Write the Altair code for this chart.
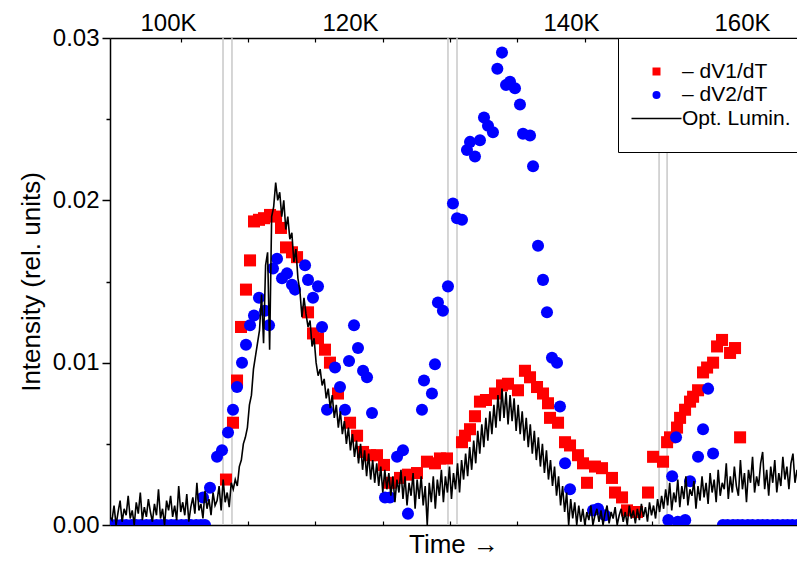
import altair as alt
import pandas as pd

FONT = "Liberation Sans"

dv1_label = "– dV1/dT"
dv2_label = "– dV2/dT"
lum_label = "Opt. Lumin."

# -dV1/dT (red squares)
dv1_time = [16.72, 17.76, 18.36, 18.95, 19.69, 20.29, 20.88, 21.62, 22.37, 23.26,
            24.15, 24.89, 25.63, 26.52, 27.27, 28.90, 29.64, 30.38, 31.42, 32.16,
            33.35, 35.14, 36.18, 37.07, 38.10, 39.14, 40.18, 41.07, 42.56, 43.74,
            45.08, 46.56, 47.75, 48.49, 49.53, 51.76, 52.20, 52.95, 53.69, 54.43,
            55.32, 56.66, 57.70, 58.59, 60.07, 61.11, 61.86, 62.90, 63.79, 64.53,
            64.83, 66.02, 67.06, 67.80, 68.99, 69.73, 70.32, 71.51, 72.55, 74.03,
            74.48, 75.52, 76.26, 77.75, 79.38, 80.13, 81.61, 82.21, 82.65, 83.69,
            84.14, 84.88, 85.62, 86.07, 86.81, 87.55, 88.15, 89.04, 89.63, 90.37,
            91.56, 92.30, 93.05]
dv1_value = [0.0028, 0.0063, 0.0089, 0.0122, 0.0145, 0.0163, 0.0187, 0.0188, 0.0189, 0.0191,
             0.0190, 0.0183, 0.0171, 0.0168, 0.0165, 0.0131, 0.0118, 0.0115, 0.0108, 0.0100,
             0.0081, 0.0063, 0.0055, 0.0045, 0.0043, 0.0043, 0.0037, 0.0026, 0.0029, 0.0031,
             0.0032, 0.0039, 0.0038, 0.0041, 0.0041, 0.0051, 0.0055, 0.0059, 0.0067, 0.0076,
             0.0077, 0.0081, 0.0086, 0.0087, 0.0083, 0.0095, 0.0091, 0.0085, 0.0081, 0.0075,
             0.0066, 0.0063, 0.0051, 0.0049, 0.0043, 0.0038, 0.0026, 0.0036, 0.0035, 0.0029,
             0.0020, 0.0017, 0.0009, 0.0008, 0.0020, 0.0042, 0.0039, 0.0051, 0.0054, 0.0060,
             0.0066, 0.0071, 0.0076, 0.0079, 0.0083, 0.0094, 0.0097, 0.0100, 0.0110, 0.0114,
             0.0106, 0.0109, 0.0054]

# -dV2/dT (blue circles)
dv2_time = [-0.3, 0.4, 1.2, 1.9, 2.7, 3.4, 4.1, 4.9, 5.6, 6.4,
            7.1, 7.8, 8.6, 9.3, 10.1, 10.8, 11.5, 12.3, 13.0, 13.6,
            13.31, 14.35, 15.39, 16.13, 17.02, 17.76, 18.36, 19.10, 19.69, 20.29,
            20.88, 21.62, 22.51, 23.11, 23.70, 24.30, 25.04, 25.78, 26.52, 26.97,
            28.46, 28.90, 29.64, 30.38, 30.98, 31.72, 32.91, 33.65, 34.39, 34.99,
            35.73, 36.32, 37.07, 37.66, 38.40, 40.33, 41.07, 42.12, 43.00, 43.74,
            45.82, 46.12, 47.30, 47.75, 48.19, 48.93, 49.68, 50.42, 51.02, 51.76,
            52.50, 52.95, 53.69, 54.43, 55.03, 55.62, 56.36, 57.01, 57.70, 58.30,
            58.89, 59.63, 60.37, 60.82, 61.86, 62.31, 63.05, 63.79, 64.38, 65.12,
            65.87, 66.31, 67.06, 67.80, 71.22, 71.96, 73.00, 82.40, 82.96, 83.54,
            83.80, 84.90, 85.62, 86.81, 87.55, 88.30, 89.04,
            90.5, 91.2, 92.0, 92.7, 93.4, 94.2, 94.9, 95.7, 96.4, 97.1,
            97.9, 98.6, 99.4, 100.1, 100.8, 101.6]
dv2_value = [0.0, 0.0, 0.0, 0.0, 0.0, 0.0, 0.0, 0.0, 0.0, 0.0,
             0.0, 0.0, 0.0, 0.0, 0.0, 0.0, 0.0, 0.0, 0.0, 0.0,
             0.0017, 0.0023, 0.0042, 0.0046, 0.0057, 0.0071, 0.0085, 0.0100, 0.0111, 0.0123,
             0.0129, 0.0140, 0.0132, 0.0123, 0.0158, 0.0164, 0.0152, 0.0155, 0.0148, 0.0145,
             0.0160, 0.0151, 0.0140, 0.0147, 0.0122, 0.0071, 0.0097, 0.0085, 0.0071, 0.0101,
             0.0123, 0.0109, 0.0095, 0.0091, 0.0069, 0.0017, 0.0017, 0.0042, 0.0046, 0.0007,
             0.0071, 0.0089, 0.0081, 0.0099, 0.0137, 0.0132, 0.0147, 0.0198, 0.0189, 0.0188,
             0.0231, 0.0236, 0.0227, 0.0237, 0.0251, 0.0246, 0.0242, 0.0281, 0.0291, 0.0271,
             0.0273, 0.0269, 0.0259, 0.0241, 0.0240, 0.0221, 0.0172, 0.0151, 0.0131, 0.0103,
             0.0100, 0.0073, 0.0038, 0.0022, 0.0009, 0.0010, 0.0006, 0.0003, 0.0030, 0.0054,
             0.0002, 0.0003, 0.0027, 0.0042, 0.0059, 0.0084, 0.0044,
             0.0, 0.0, 0.0, 0.0, 0.0, 0.0, 0.0, 0.0, 0.0, 0.0,
             0.0, 0.0, 0.0, 0.0, 0.0, 0.0]

# optical luminescence, sampled every 0.3 time units from -0.5; values in units of 1e-4
lum_time_start = -0.5
lum_time_step = 0.3
lum_value_e4 = [
    5, 3, 12, 0, 8, 15, 2, 10, 6, 18,
    4, 9, 0, 14, 7, 20, 3, 11, 5, 16,
    8, 2, 13, 6, 22, 4, 10, 0, 15, 9,
    18, 5, 12, 3, 24, 8, 14, 6, 19, 2,
    11, 17, 7, 26, 9, 13, 4, 21, 10, 16,
    6, 20, 12,
    15, 24, 9, 28, 14, 20, 11, 26,
    22, 28, 24, 36, 40, 50, 54, 60, 74, 80,
    96, 104, 112, 120, 142, 112, 160, 168, 108, 190,
    196, 211, 200, 205, 190, 200, 182, 190, 176, 180,
    162, 170, 152, 144, 128, 140, 130, 122, 126, 110,
    115, 100, 92, 96, 86, 90, 78, 84,
    72, 80, 66, 74, 60, 70, 56, 64, 50, 60,
    46, 56, 42, 52, 38, 50, 34, 46, 30, 44,
    28, 40, 26, 38, 24, 36, 20, 34, 22, 32,
    18, 30, 14, 28, 20, 34, 16, 30, 12, 26,
    18, 32, 10, 28, 16, 30, 12, 24, 0, 26,
    14, 30, 10, 28, 18, 34, 14, 30, 20, 36,
    16, 32, 22, 38, 20, 40, 28, 44, 30, 48,
    34, 52, 38, 58, 44, 62, 48, 66, 52, 70,
    56, 74, 60, 80, 64, 84, 66, 82, 62, 80,
    64, 78, 58, 74, 56, 70, 52, 66, 48, 62,
    44, 58, 40, 54, 36, 50, 32, 46, 28, 40,
    24, 36, 18, 30, 12, 24, 8, 20, 0, 16,
    4, 14, 0, 12, 2, 10, 0, 8, 3, 12,
    0, 6, 10, 2, 9, 0, 7, 12, 1, 8,
    4, 11, 0, 6, 10, 2, 8, 0, 12, 4,
    9, 1, 10, 3, 13, 5, 11, 2, 14, 6,
    12, 4, 16, 8, 18, 10, 22, 12, 26, 9,
    20, 14, 28, 11, 24, 16, 30, 12, 22, 18,
    27, 10, 24, 15, 30, 17, 26, 13, 32, 20,
    28, 14, 34, 18, 26, 22, 38, 16, 30, 20,
    36, 24, 18, 40, 22, 32, 14, 34, 26, 42,
    20, 30, 24, 38, 45, 22, 34, 18, 36, 26,
    40, 20, 32, 24, 42, 28, 36, 22, 38, 44,
    26, 34]

marker_times = [16.28, 17.61, 49.68, 51.02, 81.02, 82.21]
time_ticks = [10, 20, 30, 40, 50, 60, 70, 80, 90, 100]
temp_positions = [8.11, 35.14, 67.95, 93.34]
temp_labels = ["100K", "120K", "140K", "160K"]
y_major = [0.0, 0.01, 0.02, 0.03]
y_minor = [0.005, 0.015, 0.025]

red_df = pd.DataFrame({"t": dv1_time, "v": dv1_value, "series": dv1_label})
blue_df = pd.DataFrame({"t": dv2_time, "v": dv2_value, "series": dv2_label})
lum_df = pd.DataFrame({
    "t": [lum_time_start + lum_time_step * i for i in range(len(lum_value_e4))],
    "v": [x * 1e-4 for x in lum_value_e4],
})
marker_df = pd.DataFrame({"t": marker_times})

xscale = alt.Scale(domain=[-0.5, 101.5], nice=False, zero=False)
yscale = alt.Scale(domain=[0, 0.03], nice=False, zero=False)
color_scale = alt.Scale(domain=[dv1_label, dv2_label, lum_label],
                        range=["#ff0000", "#0000ff", "#000000"])
shape_scale = alt.Scale(domain=[dv1_label, dv2_label, lum_label],
                        range=["square", "circle", "M-6.25,-0.2H6.25V0.2H-6.25Z"])

legend = alt.Legend(title=None, orient="none", legendX=508, legendY=0, padding=23,
                    strokeColor="black", fillColor="white", symbolSize=64,
                    symbolOffset=5, labelOffset=15, labelFont=FONT, labelFontSize=21,
                    labelColor="black", rowPadding=1.5, labelLimit=300)

x_bottom_main = alt.Axis(orient="bottom", values=time_ticks, labels=False, ticks=False,
                         domain=True, domainColor="black", domainWidth=1.5, grid=False,
                         title="Time →", titleFont=FONT, titleFontSize=26,
                         titleFontWeight="normal", titleColor="black", titlePadding=6)
x_bottom_inner = alt.Axis(orient="bottom", values=time_ticks, labels=False, ticks=True,
                          tickSize=4, tickWidth=1.2, tickColor="black", offset=-4,
                          domain=False, grid=False, title=None)
x_top_inner = alt.Axis(orient="top", values=time_ticks, labels=False, ticks=True,
                       tickSize=4, tickWidth=1.2, tickColor="black", offset=-4,
                       domain=False, grid=False, title=None)
label_expr = "[" + ",".join("'%s'" % s for s in temp_labels) + "][indexof([" + \
    ",".join(str(p) for p in temp_positions) + "], datum.value)]"
x_top_labels = alt.Axis(orient="top", values=temp_positions, labelExpr=label_expr,
                        ticks=False, domain=True, domainColor="black", domainWidth=1.5,
                        grid=False, title=None, labelFont=FONT, labelFontSize=24,
                        labelColor="black", labelPadding=3)
y_main = alt.Axis(orient="left", values=y_major, format=".2f", tickSize=8, tickWidth=1.5,
                  tickColor="black", domain=True, domainColor="black", domainWidth=1.5,
                  grid=False, labelFont=FONT, labelFontSize=24, labelColor="black",
                  labelPadding=3, title="Intensity (rel. units)", titleFont=FONT,
                  titleFontSize=26, titleFontWeight="normal", titleColor="black",
                  titlePadding=8)
y_minor_axis = alt.Axis(orient="left", values=y_minor, labels=False, tickSize=4,
                        tickWidth=1.5, tickColor="black", domain=False, grid=False,
                        title=None)

rules = alt.Chart(marker_df).mark_rule(color="#c8c8c8", strokeWidth=1.5).encode(
    x=alt.X("t:Q", scale=xscale, axis=x_bottom_main)
)

red = alt.Chart(red_df).mark_point(filled=True, size=145, opacity=1, clip=True).encode(
    x=alt.X("t:Q", scale=xscale, axis=x_bottom_inner),
    y=alt.Y("v:Q", scale=yscale, axis=y_main),
    color=alt.Color("series:N", scale=color_scale, legend=legend),
    shape=alt.Shape("series:N", scale=shape_scale, legend=legend),
)

blue = alt.Chart(blue_df).mark_point(filled=True, size=145, opacity=1, clip=True).encode(
    x=alt.X("t:Q", scale=xscale, axis=x_top_inner),
    y=alt.Y("v:Q", scale=yscale, axis=y_minor_axis),
    color=alt.Color("series:N", scale=color_scale, legend=legend),
    shape=alt.Shape("series:N", scale=shape_scale, legend=legend),
)

line = alt.Chart(lum_df).mark_line(color="black", strokeWidth=1.6, clip=True).encode(
    x=alt.X("t:Q", scale=xscale, axis=x_top_labels),
    y=alt.Y("v:Q", scale=yscale, axis=None),
)

chart = alt.layer(rules, red, blue, line).resolve_axis(
    x="independent", y="independent"
).properties(
    width=687, height=487,
    autosize=alt.AutoSizeParams(type="none"),
    padding={"left": 110, "top": 38, "right": 0, "bottom": 37},
).configure(font=FONT).configure_view(stroke=None)

chart.save("out.html", embed_options={"renderer": "svg", "actions": False})
